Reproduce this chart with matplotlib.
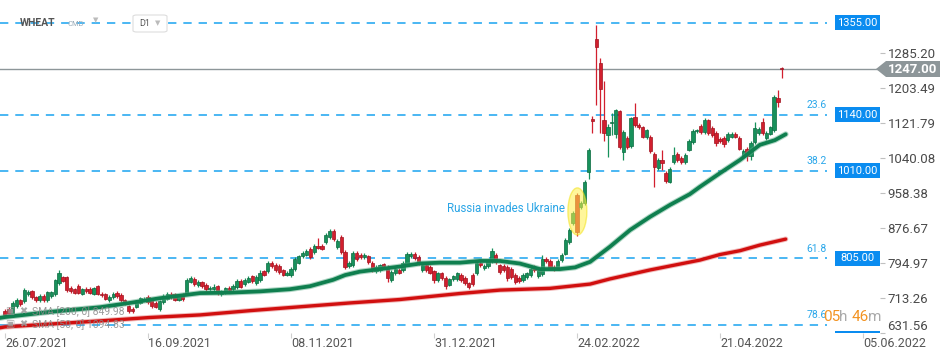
import numpy as np
import matplotlib
matplotlib.use('Agg')
import matplotlib.pyplot as plt
from matplotlib.patches import Ellipse, Polygon, FancyBboxPatch, Rectangle

plt.rcParams['font.family'] = ['Roboto', 'DejaVu Sans']
plt.rcParams['lines.scale_dashes'] = False

# daily candles, WHEAT CMD D1, 26.07.2021 .. mid May 2022
opens = [682, 687, 674, 694, 707, 705, 722, 728, 714, 708,
         717, 707, 717, 722, 747, 761, 761, 736, 733, 741,
         723, 734, 734, 723, 740, 723, 721, 707, 714, 724,
         720, 707, 693, 687, 692, 702, 709, 715, 707, 702,
         686, 703, 711, 722, 721, 709, 720, 723, 751, 757,
         743, 749, 744, 733, 733, 740, 722, 727, 737, 734,
         738, 753, 745, 751, 763, 748, 755, 775, 775, 795,
         790, 787, 777, 767, 766, 780, 795, 810, 814, 827,
         820, 835, 835, 843, 855, 869, 831, 855, 820, 787,
         789, 818, 813, 808, 810, 794, 775, 777, 791, 785,
         755, 770, 778, 777, 792, 811, 816, 808, 777, 790,
         785, 775, 754, 770, 759, 744, 756, 757, 766, 759,
         747, 766, 770, 794, 782, 787, 799, 813, 789, 787,
         785, 780, 766, 759, 754, 761, 766, 785, 764, 768,
         804, 799, 785, 782, 801, 816, 843, 888, 953, 925,
         934, 1006, 1130, 1317, 1261, 1127, 1093, 1120, 1095, 1148,
         1054, 1086, 1067, 1134, 1116, 1111, 1088, 1089, 1049, 1016,
         1035, 1005, 984, 1030, 1049, 1040, 1030, 1059, 1076, 1102,
         1114, 1100, 1127, 1109, 1098, 1084, 1086, 1081, 1089, 1096,
         1086, 1044, 1061, 1044, 1077, 1098, 1123, 1086, 1096, 1104,
         1179, 1249]
closes = [672, 674, 702, 707, 698, 731, 727, 714, 708, 717,
          707, 726, 726, 754, 771, 753, 731, 728, 725, 725,
          733, 729, 725, 735, 723, 719, 711, 716, 723, 717,
          707, 700, 682, 682, 705, 712, 711, 703, 693, 692,
          705, 717, 722, 715, 709, 717, 710, 755, 759, 745,
          751, 740, 733, 737, 739, 725, 728, 735, 731, 741,
          752, 739, 755, 759, 752, 762, 771, 767, 794, 787,
          778, 773, 767, 772, 780, 804, 810, 818, 823, 808,
          835, 830, 828, 860, 869, 850, 846, 820, 785, 794,
          818, 804, 808, 813, 796, 777, 786, 789, 787, 759,
          773, 780, 772, 794, 816, 816, 806, 794, 790, 777,
          772, 754, 770, 759, 740, 756, 763, 770, 755, 747,
          738, 745, 794, 789, 787, 799, 823, 796, 773, 777,
          759, 761, 750, 752, 766, 770, 780, 777, 777, 804,
          799, 782, 780, 799, 813, 848, 872, 911, 866, 934,
          983, 1059, 1125, 1298, 1200, 1098, 1111, 1124, 1151, 1064,
          1101, 1064, 1132, 1116, 1111, 1089, 1104, 1056, 1018, 1035,
          1028, 986, 1014, 1047, 1035, 1030, 1047, 1079, 1102, 1104,
          1100, 1127, 1098, 1093, 1074, 1079, 1072, 1096, 1096, 1089,
          1061, 1056, 1044, 1074, 1109, 1107, 1098, 1098, 1111, 1182,
          1170, 1247]
highs = [686, 691, 706, 712, 711, 736, 732, 731, 718, 721,
         721, 730, 730, 758, 777, 765, 764, 740, 737, 745,
         737, 738, 738, 739, 744, 727, 725, 720, 727, 728,
         724, 711, 697, 691, 709, 716, 715, 719, 711, 706,
         709, 721, 726, 726, 725, 721, 724, 759, 763, 761,
         755, 753, 748, 741, 745, 744, 732, 739, 741, 745,
         756, 757, 759, 763, 767, 766, 777, 779, 798, 800,
         794, 791, 781, 776, 784, 808, 814, 822, 827, 831,
         839, 852, 839, 864, 873, 873, 850, 859, 824, 798,
         822, 822, 817, 817, 814, 798, 790, 793, 795, 789,
         777, 784, 782, 798, 820, 820, 820, 812, 794, 794,
         789, 779, 774, 774, 763, 760, 767, 774, 770, 763,
         751, 770, 798, 798, 791, 803, 830, 817, 793, 791,
         789, 784, 770, 763, 770, 774, 784, 789, 781, 812,
         808, 803, 789, 803, 817, 852, 876, 915, 958, 938,
         988, 1062, 1137, 1350, 1272, 1218, 1118, 1144, 1154, 1152,
         1105, 1090, 1136, 1167, 1120, 1115, 1108, 1093, 1053, 1039,
         1059, 1009, 1018, 1064, 1053, 1044, 1051, 1083, 1106, 1108,
         1118, 1133, 1131, 1113, 1102, 1088, 1090, 1100, 1100, 1100,
         1090, 1060, 1065, 1078, 1124, 1111, 1133, 1102, 1115, 1186,
         1198, 1251]
lows = [668, 670, 668, 690, 694, 701, 718, 710, 704, 704,
        703, 703, 713, 718, 743, 749, 727, 724, 721, 721,
        719, 725, 721, 719, 719, 715, 707, 703, 710, 713,
        703, 696, 678, 678, 688, 698, 705, 699, 689, 688,
        682, 699, 707, 711, 705, 705, 706, 719, 747, 741,
        739, 736, 729, 729, 729, 719, 718, 723, 727, 730,
        734, 735, 741, 747, 748, 744, 751, 763, 771, 783,
        774, 769, 763, 763, 762, 776, 791, 806, 810, 804,
        816, 826, 824, 839, 851, 846, 827, 816, 781, 783,
        785, 800, 804, 804, 792, 773, 771, 773, 783, 750,
        751, 766, 768, 773, 788, 807, 802, 790, 773, 773,
        768, 748, 750, 755, 733, 740, 752, 753, 751, 743,
        734, 741, 766, 785, 778, 783, 795, 792, 769, 773,
        752, 757, 746, 748, 750, 757, 762, 773, 760, 764,
        795, 778, 776, 778, 797, 812, 839, 884, 858, 921,
        930, 991, 1098, 1164, 1098, 1079, 1042, 1093, 1087, 1060,
        1035, 1060, 1063, 1112, 1107, 1085, 1084, 1052, 971, 1012,
        1011, 982, 980, 1026, 1031, 1026, 1026, 1055, 1072, 1098,
        1096, 1096, 1094, 1089, 1068, 1075, 1066, 1077, 1085, 1085,
        1057, 1040, 1033, 1035, 1073, 1094, 1094, 1082, 1092, 1100,
        1158, 1225]

# moving averages (bar index, value)
sma50_idx = [-1.3, 0, 11.6, 24.6, 32.3, 40.1, 50.5, 58.2, 66, 73.7, 78.9, 84.9, 88, 91.8,
             97, 102.2, 107.4, 112.5, 117.7, 122.9, 128.1, 133.2, 138.4, 143.6, 147.5,
             151.4, 156.5, 161.7, 166.9, 172.1, 177.2, 179.8, 185, 190.2, 195.3, 199.2, 202]
sma50_val = [666, 668, 680, 691, 701, 712, 724, 725, 728, 733, 740, 755, 766, 774,
             780, 786, 793, 795, 795, 799, 799, 793, 780, 780, 784,
             797, 832, 871, 902, 930, 955, 972, 1004, 1035, 1070, 1081, 1094.83]
sma200_idx = [-1.3, 0, 24.6, 37.5, 50.5, 63.4, 76.3, 89.3, 102.2, 117.7, 128.1, 141,
              151.4, 156.5, 166.9, 179.8, 185, 190.2, 195.3, 202]
sma200_val = [643, 645, 659, 667, 673, 683, 692, 701, 709, 723, 731, 735,
              745, 757, 778, 801, 814, 823, 836, 849.98]

fib_levels = [1355.0, 1140.0, 1010.0, 805.0, 650.0]
fib_names = ['0.0', '23.6', '38.2', '61.8', '78.6']
last_price = 1247.0

ytick_vals = [631.56, 713.26, 794.97, 876.67, 958.38, 1040.08, 1121.79, 1203.49, 1285.20]
date_idx = [0, 37, 74, 111, 148, 185, 222]
date_labels = ['26.07.2021', '16.09.2021', '08.11.2021', '31.12.2021',
               '24.02.2022', '21.04.2022', '05.06.2022']
event_idx = 148
event_text = 'Russia invades Ukraine'

W, H = 949, 358
fig = plt.figure(figsize=(W / 100, H / 100), dpi=100)
ax = fig.add_axes([0, 25 / H, 880 / W, 333 / H])
ax.set_xlim(-1.29, 226.4)
ax.set_ylim(630.8, 1408.2)
for s in ax.spines.values():
    s.set_visible(False)

GREEN = '#17915b'
GREEN_E = '#0b6a3f'
RED = '#d21f2e'
RED_E = '#9e1320'

idx = np.arange(len(closes))
o = np.array(opens, float)
c = np.array(closes, float)
up = c >= o
col = np.where(up, GREEN, RED)
ecol = np.where(up, GREEN_E, RED_E)
ax.vlines(idx, lows, highs, colors=col, lw=0.9, zorder=3)
ax.bar(idx, c - o, bottom=o, width=0.85, color=col, edgecolor=ecol, lw=0.5, zorder=4)

# SMAs
ax.plot(sma200_idx, sma200_val, color='#e06a6a', lw=3.8, alpha=0.45, zorder=5, solid_capstyle='round')
ax.plot(sma200_idx, sma200_val, color='#d10f0f', lw=2.4, zorder=5, solid_capstyle='round')
ax.plot(sma50_idx, sma50_val, color='#5fae8a', lw=4.2, alpha=0.5, zorder=5, solid_capstyle='round')
ax.plot(sma50_idx, sma50_val, color='#0f7f4f', lw=2.7, zorder=5, solid_capstyle='round')

# fibo levels
FIB = '#19a3f0'
fib_end = 212.7
for lvl, name in zip(fib_levels, fib_names):
    ax.hlines(lvl, -1.3, fib_end, colors=FIB, lw=1.1, linestyles=[(0, (6, 5))], zorder=2)
    if name != '0.0':
        ax.annotate(name, (fib_end, lvl), xytext=(0, 7), textcoords='offset points',
                    ha='right', va='center', fontsize=7.5, color='#2aa7ea', zorder=6)

# price boxes on the right edge
box_x0 = (835 / 880) * 226.4 + (1 - 835 / 880) * -1.29
box_w = 45 / 880 * (226.4 + 1.29)
for lvl in fib_levels:
    yc = lvl if lvl > 700 else 618.0
    hh = 15 * 2.3346
    ax.add_patch(Rectangle((box_x0, yc - hh / 2), box_w, hh, fc='#0a8cf0', ec='none', zorder=7))
    ax.text(box_x0 + box_w / 2, yc, '%.2f' % lvl, ha='center', va='center',
            fontsize=8, color='white', zorder=8, clip_on=True)

# last price line
ax.axhline(last_price, color='#8d9699', lw=1, zorder=2)

# event highlight
ax.add_patch(Ellipse((event_idx + 0.1, 914.6), 4.9, 110, fc='#fff04a', ec='#f2e21a',
                     lw=1, alpha=0.55, zorder=6))
ax.text(114.4, 922.6, event_text, fontsize=8.3, color='#2aa5e6', ha='left', va='center', zorder=6)

# axes ticks
ax.yaxis.tick_right()
ax.set_yticks(ytick_vals)
ax.set_yticklabels(['%.2f' % v for v in ytick_vals])
ax.get_yticklabels()[0].set_va('bottom')
ax.tick_params(axis='y', length=3.6, pad=1.8, color='#c0c0c0', labelsize=9.5, labelcolor='#4a4a4a')
ax.set_xticks(date_idx)
ax.set_xticklabels(date_labels, ha='left')
ax.tick_params(axis='x', length=3.5, pad=-0.5, color='#cfcfcf', labelsize=9, labelcolor='#555555')

# price tag
px = lambda x: x / W
py = lambda y: 1 - y / H
tag = Polygon([(px(876), py(69)), (px(886), py(61)), (px(940), py(61)), (px(940), py(77)), (px(886), py(77))],
              closed=True, transform=fig.transFigure, fc='#8d9699', ec='none', zorder=8)
fig.patches.append(tag)
fig.text(px(913), py(69.5), '%.2f' % last_price, color='white', fontsize=9.5, fontweight='bold',
         ha='center', va='center', zorder=9)

# header
fig.text(px(20), py(23), 'WHEAT', fontsize=7.5, fontweight='bold', color='#555555', va='center')
fig.text(px(68), py(24), 'CMD', fontsize=5.5, color='#9aabb8', va='center')
fig.text(px(93), py(21), '\u25bc', fontsize=5, color='#bbbbbb', va='center')
fig.patches.append(FancyBboxPatch((px(133), py(32)), px(34), 17 / H, boxstyle='round,pad=0,rounding_size=0.004',
                                  transform=fig.transFigure, fc='white', ec='#dddddd', lw=0.8))
fig.text(px(139), py(24), 'D1', fontsize=6.5, color='#555555', va='center')
fig.text(px(155), py(24), '\u25bc', fontsize=5, color='#bbbbbb', va='center')

# legend of indicators
fig.text(px(32), py(312), 'SMA [200, 0] 849.98', fontsize=7.5, color='#8a8a8a', va='center', alpha=0.85)
fig.text(px(32), py(325), 'SMA [50, 0] 1094.83', fontsize=7.5, color='#8a8a8a', va='center', alpha=0.85)
for yy in (311, 324):
    fig.text(px(19), py(yy), '\u2716', fontsize=7, color='#9a9a9a', va='center', alpha=0.85)
    fig.text(px(5), py(yy), '\u25a3', fontsize=7, color='#9a9a9a', va='center', alpha=0.85)

# countdown
for t, x0, cl in [('05', 823, '#f39321'), ('h', 839, '#aaaaaa'), ('46', 852, '#f39321'), ('m', 868, '#aaaaaa')]:
    fig.text(px(x0), py(317), t, fontsize=11, color=cl, va='center', zorder=9)

fig.savefig('out.png', dpi=100)
